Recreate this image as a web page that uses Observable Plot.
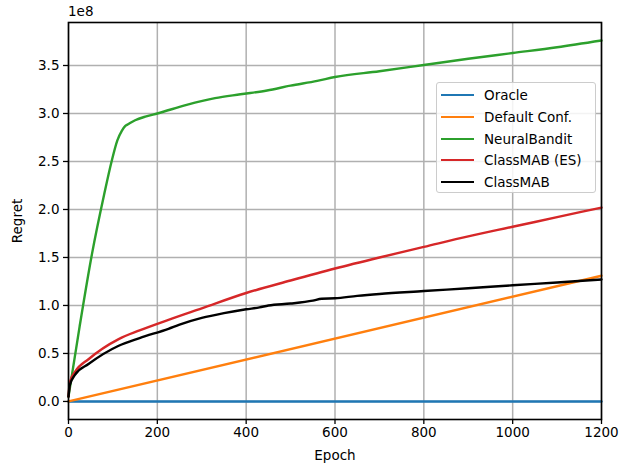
<!DOCTYPE html>
<html><head><meta charset="utf-8">
<script src="https://cdn.jsdelivr.net/npm/d3@7"></script>
<script src="https://cdn.jsdelivr.net/npm/@observablehq/plot@0.6"></script>
<style>
body{margin:0;background:#fff;font-family:"DejaVu Sans",sans-serif;}
#wrap{position:relative;width:632px;height:466px;}
#legend{position:absolute;left:436px;top:82px;width:160px;height:111px;border:1px solid #cccccc;border-radius:3px;background:rgba(255,255,255,0.85);box-sizing:border-box;font-size:13.5px;color:#000;}
.row{position:absolute;left:4px;height:20px;display:flex;align-items:center;}
.sw{width:33px;height:0;border-top:2.4px solid;margin-right:10px;}
#offset{position:absolute;left:68px;top:3px;font-size:13.5px;}
</style></head><body>
<div id="wrap"><div id="offset">1e8</div><div id="legend"></div></div>
<script>
const seriesNames = ["Oracle","Default Conf.","NeuralBandit","ClassMAB (ES)","ClassMAB"];
const seriesColors = ["#1f77b4","#ff7f0e","#2ca02c","#d62728","#000000"];
const yTicks = [0,0.5,1.0,1.5,2.0,2.5,3.0,3.5];
const xTicks = [0,200,400,600,800,1000,1200];

const oracleEpoch = [0,1200];
const oracleRegret = [0,0];
const defaultEpoch = [0,1200];
const defaultRegret = [0,1.31];
const neuralEpoch = [0,25,53,80,97,110,120,128,135,150,175,200,266,330,387,447,500,560,600,700,800,900,1000,1100,1200];
const neuralRegret = [0.05,0.78,1.54,2.15,2.5,2.72,2.82,2.87,2.89,2.93,2.97,3.0,3.09,3.16,3.2,3.24,3.29,3.34,3.38,3.44,3.505,3.57,3.63,3.69,3.76];
const esEpoch = [0,3,15,45,113,160,225,300,400,500,600,700,800,900,1000,1100,1200];
const esRegret = [0.05,0.2,0.31,0.44,0.65,0.74,0.85,0.97,1.13,1.26,1.385,1.5,1.61,1.72,1.82,1.92,2.02];
const cmEpoch = [0,3,15,45,113,160,225,250,300,350,400,430,450,500,550,570,600,650,700,800,900,1000,1100,1200];
const cmRegret = [0.05,0.17,0.28,0.39,0.58,0.66,0.757,0.8,0.87,0.92,0.96,0.98,1.0,1.02,1.05,1.07,1.075,1.1,1.12,1.15,1.18,1.21,1.24,1.27];

const epochs = [oracleEpoch, defaultEpoch, neuralEpoch, esEpoch, cmEpoch];
const regrets = [oracleRegret, defaultRegret, neuralRegret, esRegret, cmRegret];
const rows = [];
seriesNames.forEach((name,i)=>epochs[i].forEach((e,j)=>rows.push({series:name,epoch:e,regret:regrets[i][j]})));

const chart = Plot.plot({
  width:632, height:466,
  marginLeft:68, marginRight:31, marginTop:22, marginBottom:47,
  style:{fontSize:"13.5px", fontFamily:'"DejaVu Sans",sans-serif', color:"#000", background:"#fff"},
  x:{domain:[0,1200]},
  y:{domain:[-0.188,3.948]},
  marks:[
    Plot.gridX(xTicks,{stroke:"#b0b0b0",strokeOpacity:1,strokeWidth:1.5}),
    Plot.gridY(yTicks,{stroke:"#b0b0b0",strokeOpacity:1,strokeWidth:1.5}),
    ...seriesNames.map((s,i)=>Plot.line(rows.filter(r=>r.series===s),{x:"epoch",y:"regret",stroke:seriesColors[i],strokeWidth:2.4,curve:"monotone-x"})),
    Plot.frame({stroke:"#000",strokeWidth:1.6}),
    Plot.axisX({ticks:xTicks,tickSize:5,tickPadding:3,tickFormat:d=>String(d),label:"Epoch",labelAnchor:"center",labelArrow:"none",labelOffset:40,stroke:"#000",strokeWidth:1.3}),
    Plot.axisY({ticks:yTicks,tickSize:5,tickPadding:4,tickFormat:d=>d.toFixed(1),label:"Regret",labelAnchor:"center",labelArrow:"none",labelOffset:56,stroke:"#000",strokeWidth:1.3})
  ]
});
document.getElementById("wrap").prepend(chart);
const leg = document.getElementById("legend");
seriesNames.forEach((n,i)=>{
  const r = document.createElement("div");
  r.className="row";
  r.style.top=(2+i*21.8)+"px";
  r.innerHTML=`<span class="sw" style="border-color:${seriesColors[i]}"></span><span>${n}</span>`;
  leg.appendChild(r);
});
</script>
</body></html>
